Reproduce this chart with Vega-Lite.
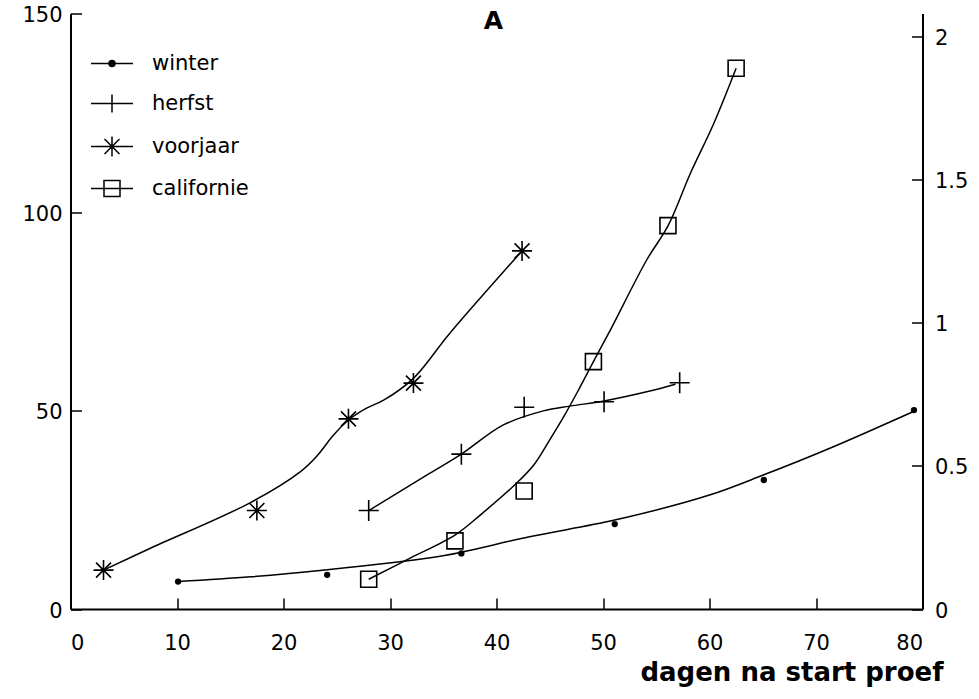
{
  "$schema": "https://vega.github.io/schema/vega-lite/v6.json",
  "width": 852,
  "height": 595.5,
  "autosize": "none",
  "padding": {"left": 70.5, "top": 13.5, "right": 56.5, "bottom": 90},
  "background": "white",
  "config": {
    "view": {"stroke": null},
    "axis": {
      "grid": false,
      "domainColor": "black",
      "domainWidth": 2,
      "tickColor": "black",
      "tickWidth": 1.5,
      "tickSize": -11,
      "labelFont": "DejaVu Sans",
      "labelFontSize": 21,
      "labelColor": "black",
      "titleColor": "black"
    }
  },
  "title": {
    "text": "A",
    "font": "DejaVu Sans",
    "fontWeight": "bold",
    "fontSize": 25,
    "color": "black",
    "anchor": "middle",
    "frame": "group",
    "baseline": "alphabetic",
    "offset": -28,
    "dx": -3,
    "dy": 21
  },
  "datasets": {
    "punten": [
      {"dag": 10.1, "waarde": 6.9, "reeks": "winter"},
      {"dag": 24.1, "waarde": 8.6, "reeks": "winter"},
      {"dag": 36.7, "waarde": 14.0, "reeks": "winter"},
      {"dag": 51.1, "waarde": 21.4, "reeks": "winter"},
      {"dag": 65.1, "waarde": 32.5, "reeks": "winter"},
      {"dag": 79.2, "waarde": 50.1, "reeks": "winter"},
      {"dag": 28.0, "waarde": 24.8, "reeks": "herfst"},
      {"dag": 36.7, "waarde": 39.0, "reeks": "herfst"},
      {"dag": 42.6, "waarde": 50.8, "reeks": "herfst"},
      {"dag": 50.1, "waarde": 52.2, "reeks": "herfst"},
      {"dag": 57.2, "waarde": 57.0, "reeks": "herfst"},
      {"dag": 3.1, "waarde": 9.8, "reeks": "voorjaar"},
      {"dag": 17.5, "waarde": 24.8, "reeks": "voorjaar"},
      {"dag": 26.1, "waarde": 47.9, "reeks": "voorjaar"},
      {"dag": 32.2, "waarde": 56.9, "reeks": "voorjaar"},
      {"dag": 42.4, "waarde": 90.2, "reeks": "voorjaar"},
      {"dag": 28.0, "waarde": 0.104, "reeks": "californie"},
      {"dag": 36.1, "waarde": 0.238, "reeks": "californie"},
      {"dag": 42.6, "waarde": 0.412, "reeks": "californie"},
      {"dag": 49.1, "waarde": 0.864, "reeks": "californie"},
      {"dag": 56.1, "waarde": 1.339, "reeks": "californie"},
      {"dag": 62.5, "waarde": 1.889, "reeks": "californie"}
    ],
    "curves": [
      {"dag": 10.1, "waarde": 6.9, "reeks": "winter"},
      {"dag": 16.9, "waarde": 8.1, "reeks": "winter"},
      {"dag": 24.1, "waarde": 9.9, "reeks": "winter"},
      {"dag": 33.8, "waarde": 12.9, "reeks": "winter"},
      {"dag": 36.7, "waarde": 14.3, "reeks": "winter"},
      {"dag": 43.1, "waarde": 18.2, "reeks": "winter"},
      {"dag": 51.1, "waarde": 22.4, "reeks": "winter"},
      {"dag": 60.0, "waarde": 28.7, "reeks": "winter"},
      {"dag": 65.1, "waarde": 33.8, "reeks": "winter"},
      {"dag": 71.3, "waarde": 40.5, "reeks": "winter"},
      {"dag": 79.1, "waarde": 49.7, "reeks": "winter"},
      {"dag": 28.0, "waarde": 24.8, "reeks": "herfst"},
      {"dag": 33.75, "waarde": 34.2, "reeks": "herfst"},
      {"dag": 36.7, "waarde": 39.0, "reeks": "herfst"},
      {"dag": 40.6, "waarde": 46.3, "reeks": "herfst"},
      {"dag": 44.4, "waarde": 49.9, "reeks": "herfst"},
      {"dag": 46.9, "waarde": 51.1, "reeks": "herfst"},
      {"dag": 50.1, "waarde": 52.4, "reeks": "herfst"},
      {"dag": 54.4, "waarde": 54.9, "reeks": "herfst"},
      {"dag": 56.8, "waarde": 56.6, "reeks": "herfst"},
      {"dag": 3.1, "waarde": 9.8, "reeks": "voorjaar"},
      {"dag": 7.5, "waarde": 15.3, "reeks": "voorjaar"},
      {"dag": 16.9, "waarde": 26.8, "reeks": "voorjaar"},
      {"dag": 21.6, "waarde": 34.6, "reeks": "voorjaar"},
      {"dag": 23.1, "waarde": 38.4, "reeks": "voorjaar"},
      {"dag": 24.7, "waarde": 43.8, "reeks": "voorjaar"},
      {"dag": 26.1, "waarde": 47.6, "reeks": "voorjaar"},
      {"dag": 27.8, "waarde": 50.6, "reeks": "voorjaar"},
      {"dag": 29.4, "waarde": 52.6, "reeks": "voorjaar"},
      {"dag": 32.2, "waarde": 58.1, "reeks": "voorjaar"},
      {"dag": 35.6, "waarde": 69.4, "reeks": "voorjaar"},
      {"dag": 42.4, "waarde": 90.2, "reeks": "voorjaar"},
      {"dag": 28.0, "waarde": 0.104, "reeks": "californie"},
      {"dag": 31.8, "waarde": 0.176, "reeks": "californie"},
      {"dag": 36.1, "waarde": 0.258, "reeks": "californie"},
      {"dag": 38.5, "waarde": 0.329, "reeks": "californie"},
      {"dag": 41.9, "waarde": 0.44, "reeks": "californie"},
      {"dag": 43.5, "waarde": 0.503, "reeks": "californie"},
      {"dag": 45.0, "waarde": 0.591, "reeks": "californie"},
      {"dag": 46.3, "waarde": 0.671, "reeks": "californie"},
      {"dag": 47.7, "waarde": 0.765, "reeks": "californie"},
      {"dag": 49.1, "waarde": 0.864, "reeks": "californie"},
      {"dag": 50.7, "waarde": 0.975, "reeks": "californie"},
      {"dag": 54.1, "waarde": 1.219, "reeks": "californie"},
      {"dag": 56.1, "waarde": 1.338, "reeks": "californie"},
      {"dag": 58.2, "waarde": 1.521, "reeks": "californie"},
      {"dag": 60.4, "waarde": 1.696, "reeks": "californie"},
      {"dag": 62.5, "waarde": 1.889, "reeks": "californie"}
    ]
  },
  "layer": [
    {
      "layer": [
        {
          "data": {"name": "curves"},
          "transform": [{"filter": "datum.reeks !== 'californie'"}],
          "mark": {"type": "line", "interpolate": "catmull-rom", "stroke": "black", "strokeWidth": 1.5},
          "encoding": {
            "x": {"field": "dag", "type": "quantitative", "scale": {"domain": [0, 80], "nice": false},
              "axis": {
                "values": [0, 10, 20, 30, 40, 50, 60, 70, 80],
                "labelPadding": 34,
                "labelBaseline": "top",
                "title": "dagen na start proef",
                "titleFont": "DejaVu Sans",
                "titleFontWeight": "bold",
                "titleFontSize": 26,
                "titleX": 872.5,
                "titleY": 71,
                "titleAlign": "right",
                "titleBaseline": "alphabetic",
                "titleAnchor": "end"
              }},
            "y": {"field": "waarde", "type": "quantitative", "scale": {"domain": [0, 150], "nice": false},
              "axis": {"orient": "left", "values": [0, 50, 100, 150], "labelPadding": 19.5, "labelOffset": 2, "title": null}},
            "detail": {"field": "reeks"}
          }
        },
        {
          "data": {"name": "punten"},
          "transform": [{"filter": "datum.reeks === 'winter'"}],
          "mark": {"type": "point", "shape": "circle", "filled": true, "fill": "black", "stroke": null, "size": 40, "opacity": 1},
          "encoding": {
            "x": {"field": "dag", "type": "quantitative"},
            "y": {"field": "waarde", "type": "quantitative"}
          }
        },
        {
          "data": {"name": "punten"},
          "transform": [{"filter": "datum.reeks === 'herfst'"}],
          "mark": {"type": "point", "shape": "M-1,0L1,0M0,-1.05L0,1.05", "filled": false, "stroke": "black", "strokeWidth": 1.6, "size": 400, "opacity": 1},
          "encoding": {
            "x": {"field": "dag", "type": "quantitative"},
            "y": {"field": "waarde", "type": "quantitative"}
          }
        },
        {
          "data": {"name": "punten"},
          "transform": [{"filter": "datum.reeks === 'voorjaar'"}],
          "mark": {"type": "point", "shape": "M-1,0L1,0M0,-1L0,1M-0.75,-0.75L0.75,0.75M-0.75,0.75L0.75,-0.75", "filled": false, "stroke": "black", "strokeWidth": 1.6, "size": 400, "opacity": 1},
          "encoding": {
            "x": {"field": "dag", "type": "quantitative"},
            "y": {"field": "waarde", "type": "quantitative"}
          }
        },
        {
          "data": {"name": "punten"},
          "transform": [{"filter": "false"}],
          "mark": {"type": "point", "filled": false, "stroke": "black", "strokeWidth": 1.5, "opacity": 0},
          "encoding": {
            "x": {"field": "dag", "type": "quantitative"},
            "y": {"field": "waarde", "type": "quantitative"},
            "shape": {"field": "reeks", "type": "nominal",
              "scale": {
                "domain": ["winter", "herfst", "voorjaar", "californie"],
                "range": [
                  "M-2.1,0L2.1,0M-0.3,0A0.3,0.3,0,1,1,0.3,0A0.3,0.3,0,1,1,-0.3,0ZM-0.18,0A0.18,0.18,0,1,1,0.18,0A0.18,0.18,0,1,1,-0.18,0ZM-0.07,0A0.07,0.07,0,1,1,0.07,0A0.07,0.07,0,1,1,-0.07,0Z",
                  "M-2.1,0L2.1,0M0,-0.9L0,0.9",
                  "M-2.1,0L2.1,0M0,-1L0,1M-0.75,-0.75L0.75,0.75M-0.75,0.75L0.75,-0.75",
                  "M-2.1,0L2.1,0M-0.8,-0.8L0.8,-0.8L0.8,0.8L-0.8,0.8Z"
                ]
              },
              "legend": {
                "orient": "none",
                "legendX": 30.5,
                "legendY": 39,
                "title": null,
                "padding": 0,
                "symbolSize": 400,
                "symbolOpacity": 1,
                "symbolStrokeWidth": 1.5,
                "symbolStrokeColor": "black",
                "symbolFillColor": "transparent",
                "labelFont": "DejaVu Sans",
                "labelFontSize": 21,
                "labelColor": "black",
                "labelOffset": 29,
                "rowPadding": 18
              }}
          }
        }
      ]
    },
    {
      "layer": [
        {
          "data": {"name": "curves"},
          "transform": [{"filter": "datum.reeks === 'californie'"}],
          "mark": {"type": "line", "interpolate": "catmull-rom", "stroke": "black", "strokeWidth": 1.5},
          "encoding": {
            "x": {"field": "dag", "type": "quantitative"},
            "y": {"field": "waarde", "type": "quantitative", "scale": {"domain": [0, 2.08], "nice": false},
              "axis": {"orient": "right", "values": [0, 0.5, 1, 1.5, 2], "labelExpr": "'' + datum.value", "labelPadding": 23, "labelOffset": 2, "title": null}}
          }
        },
        {
          "data": {"name": "punten"},
          "transform": [{"filter": "datum.reeks === 'californie'"}],
          "mark": {"type": "point", "shape": "M-0.8,-0.8L0.8,-0.8L0.8,0.8L-0.8,0.8Z", "filled": false, "fill": "transparent", "stroke": "black", "strokeWidth": 1.6, "size": 400, "opacity": 1},
          "encoding": {
            "x": {"field": "dag", "type": "quantitative"},
            "y": {"field": "waarde", "type": "quantitative"}
          }
        }
      ]
    }
  ],
  "resolve": {"scale": {"y": "independent"}}
}
